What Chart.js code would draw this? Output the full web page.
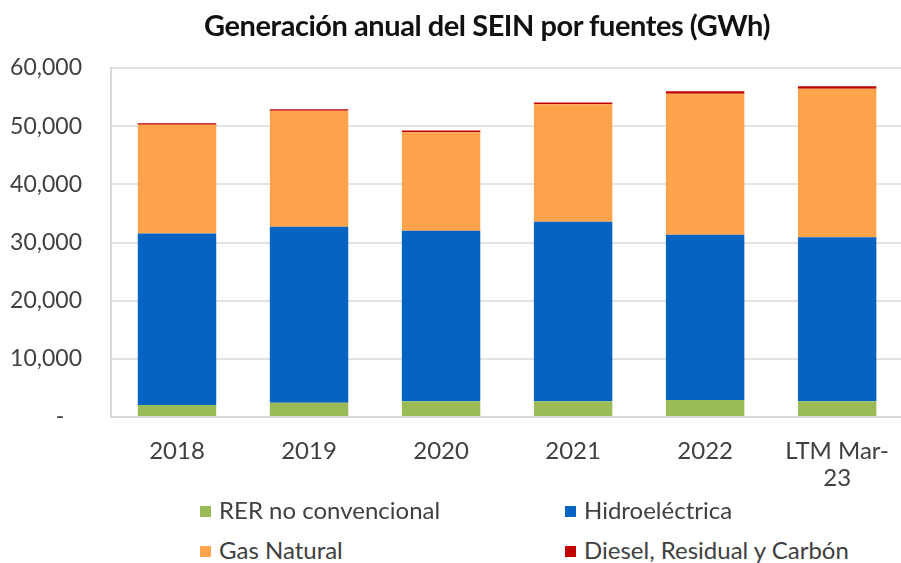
<!DOCTYPE html>
<html>
<head>
<meta charset="utf-8">
<script src="https://cdn.jsdelivr.net/npm/chart.js@4.4.1/dist/chart.umd.min.js"></script>
<style>
  html, body { margin: 0; padding: 0; background: #fff; overflow: hidden; width: 901px; height: 563px; }
  #wrap { position: relative; width: 901px; height: 563px; overflow: hidden; }
  #c { position: absolute; left: 0; top: 0; }
  #title { position: absolute; left: 187px; width: 600px; top: 8px; text-align: center; line-height: 1.2;
           font-family: Lato, sans-serif; font-weight: bold; font-size: 29px; color: #111; letter-spacing: -0.45px; white-space: nowrap; }
  .lg { position: absolute; font-family: Lato, sans-serif; font-size: 24px; color: #404040; line-height: 26px; white-space: nowrap; }
  .lg i { display: inline-block; width: 11px; height: 11px; margin-right: 8px; vertical-align: 2px; }
</style>
</head>
<body>
<div id="wrap">
  <canvas id="c" width="909" height="497"></canvas>
  <div id="title">Generación anual del SEIN por fuentes (GWh)</div>
  <div id="legend"></div>
</div>
<script>
const categories = ['2018', '2019', '2020', '2021', '2022', ['LTM Mar-', '23']];
const rerNoConvencional = [2060, 2470, 2700, 2700, 2920, 2700];
const hidroelectrica = [29500, 30240, 29320, 30870, 28410, 28220];
const gasNatural = [18670, 19930, 16940, 20200, 24230, 25500];
const dieselResidualCarbon = [280, 270, 290, 290, 450, 450];
const seriesNames = ['RER no convencional', 'Hidroeléctrica', 'Gas Natural', 'Diesel, Residual y Carbón'];
const seriesColors = ['#9BBB59', '#0563C1', '#FFA34D', '#C00000'];
const yTicks = [0, 10000, 20000, 30000, 40000, 50000, 60000];

const seriesData = [rerNoConvencional, hidroelectrica, gasNatural, dieselResidualCarbon];
const datasets = seriesNames.map((n, i) => ({
  label: n,
  data: seriesData[i],
  backgroundColor: seriesColors[i],
  borderWidth: 0,
  barPercentage: 0.594,
  categoryPercentage: 1.0
}));

new Chart(document.getElementById('c'), {
  type: 'bar',
  data: { labels: categories, datasets },
  options: {
    responsive: false,
    animation: false,
    layout: { padding: { top: 68, left: 0, right: 0, bottom: 0 } },
    plugins: { legend: { display: false }, title: { display: false }, tooltip: { enabled: false } },
    scales: {
      x: {
        stacked: true,
        grid: { drawOnChartArea: false, drawTicks: false },
        border: { display: true, color: '#d9d9d9', width: 2 },
        ticks: { color: '#404040', padding: 20, maxRotation: 0, autoSkip: false,
                 font: { family: 'Lato', size: 24, lineHeight: 1.15 } },
        afterFit: s => { s.height = 80; }
      },
      y: {
        stacked: true,
        min: 0, max: 60000,
        afterBuildTicks: s => { s.ticks = yTicks.map(v => ({ value: v })); },
        grid: { color: '#e3e3e3', lineWidth: 2, drawTicks: false },
        border: { display: true, color: '#d9d9d9', width: 2 },
        ticks: {
          color: '#404040', padding: 29,
          font: { family: 'Lato', size: 23 },
          callback: v => v === 0 ? '-   ' : v.toLocaleString('en-US')
        },
        afterFit: s => { s.width = 111; }
      }
    }
  }
});

// HTML legend (two columns)
const legendPos = [[200, 497], [565, 497], [200, 537], [565, 537]];
const lg = document.getElementById('legend');
seriesNames.forEach((n, i) => {
  const d = document.createElement('div');
  d.className = 'lg';
  d.style.left = legendPos[i][0] + 'px';
  d.style.top = legendPos[i][1] + 'px';
  d.innerHTML = '<i style="background:' + seriesColors[i] + '"></i>' + n;
  lg.appendChild(d);
});
</script>
</body>
</html>
